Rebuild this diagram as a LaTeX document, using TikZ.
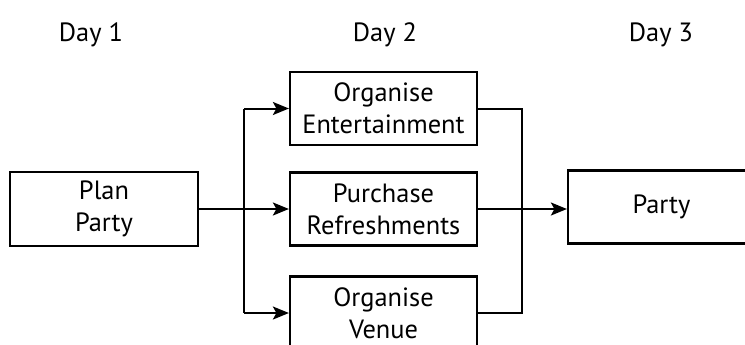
\documentclass[tikz,border=0pt]{standalone}
\usepackage{fontspec}
\setmainfont{PT Sans}
\usetikzlibrary{arrows.meta,positioning,calc}
\tikzset{
  task/.style={draw, line width=2.2bp, minimum width=187bp, minimum height=73bp, align=center, inner sep=2bp, font=\fontsize{26.5}{32}\selectfont},
  day/.style={font=\fontsize{26.5}{32}\selectfont, anchor=base},
  link/.style={line width=2bp},
  arr/.style={link, -{Stealth[length=16bp,width=13bp,inset=3.5bp]}}
}

\begin{document}
\begin{tikzpicture}[x=1bp, y=-1bp]
  \useasboundingbox (0,0) rectangle (745,344);

  % day headings
  \node[day] (day1) at (91,41) {Day 1};
  \node[day] (day2) at (385,41) {Day 2};
  \node[day] (day3) at (661,41) {Day 3};

  % tasks
  \node[task, minimum width=188bp, minimum height=74bp] (plan) at (104,209) {Plan\\Party};
  \node[task] (entertain) at (383.5,108.5) {Organise\\Entertainment};
  \node[task] (refresh) at (383.5,209) {Purchase\\Refreshments};
  \node[task] (venue) at (383.5,313) {Organise\\Venue};
  \node[task] (party) at (661.5,207) {Party};

  \coordinate (split) at (244,209);
  \coordinate (join) at (522,209);

  % fan out
  \draw[link] (plan.east) -- (split);
  \draw[link] (split |- entertain.west) -- (split |- venue.west);
  \draw[arr] (split |- entertain.west) -- (entertain.west);
  \draw[arr] (split) -- (refresh.west);
  \draw[arr] (split |- venue.west) -- (venue.west);

  % fan in
  \draw[link] (entertain.east) -- (join |- entertain.east) -- (join |- venue.east) -- (venue.east);
  \draw[arr] (refresh.east) -- (party.west |- refresh.east);
\end{tikzpicture}
\end{document}
